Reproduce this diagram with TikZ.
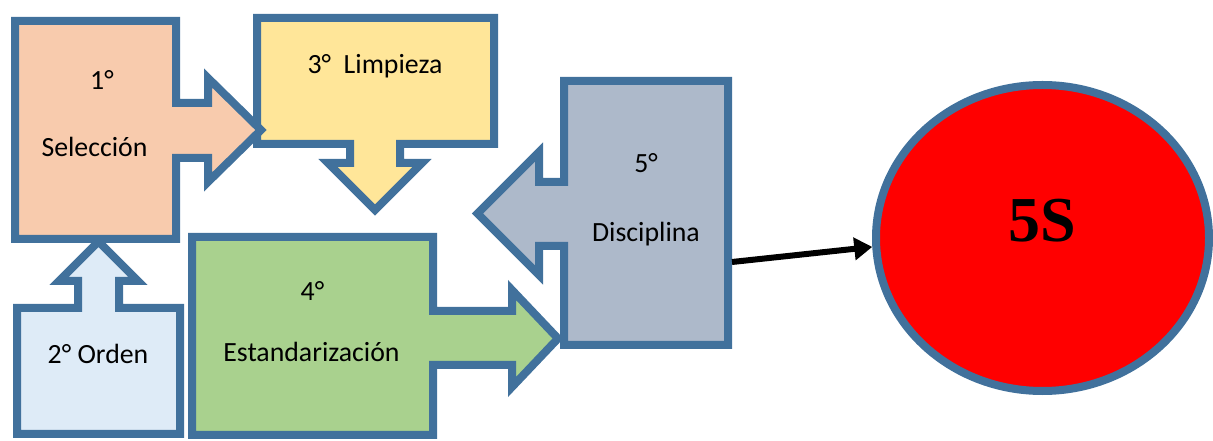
\documentclass[tikz,border=0pt]{standalone}
\usepackage{fontspec}
\setmainfont{Carlito}
\newfontfamily\tnr{Liberation Serif}
\usetikzlibrary{arrows.meta,shapes.geometric}
\definecolor{edge}{HTML}{41719C}
\definecolor{fsel}{HTML}{F8CBAD}
\definecolor{flim}{HTML}{FFE699}
\definecolor{ford}{HTML}{DEEBF7}
\definecolor{fest}{HTML}{A9D18E}
\definecolor{fdis}{HTML}{ADB9CA}
\definecolor{fred}{HTML}{FF0000}
\begin{document}
\begin{tikzpicture}[x=1bp,y=-1bp,
  callout/.style={draw=edge,line width=8bp,line join=miter,miter limit=10},
  lbl/.style={anchor=base,inner sep=0pt,font=\fontsize{27.8bp}{33bp}\selectfont},
  conn/.style={line width=6bp,-{Triangle[length=18bp,width=22bp]}}]
\useasboundingbox (0,0) rectangle (1213,441);
% 3 Limpieza
\draw[callout,fill=flim] (257,18) -- (494,18) -- (494,144) -- (400,144) -- (400,163) -- (422,163)
  -- (375,210) -- (328,163) -- (350,163) -- (350,144) -- (257,144) -- cycle;
% 1 Seleccion
\draw[callout,fill=fsel] (15,21) -- (176,21) -- (176,103) -- (208,103) -- (208,78) -- (261,130)
  -- (208,182) -- (208,158) -- (176,158) -- (176,239) -- (15,239) -- cycle;
% 2 Orden
\draw[callout,fill=ford] (17,434) -- (17,308) -- (78,308) -- (78,281) -- (59,281) -- (98.5,241.5)
  -- (138,281) -- (119,281) -- (119,308) -- (180,308) -- (180,434) -- cycle;
% 5 Disciplina
\draw[callout,fill=fdis] (564,81) -- (728,81) -- (728,345) -- (564,345) -- (564,246) -- (539,246)
  -- (539,275) -- (477.5,213.5) -- (539,152) -- (539,182) -- (564,182) -- cycle;
% 4 Estandarizacion
\draw[callout,fill=fest] (192,237) -- (433,237) -- (433,311) -- (512,311) -- (512,290) -- (558,338.5)
  -- (512,387) -- (512,365) -- (433,365) -- (433,435) -- (192,435) -- cycle;
% labels
\node[lbl] (n1) at (102,90) {1°};
\node[lbl] (t1) at (94.5,157) {Selección};
\node[lbl] (t3) at (375,74) {3°\ \ Limpieza};
\node[lbl] (t2) at (98,364) {2° Orden};
\node[lbl] (n4) at (312.5,301) {4°};
\node[lbl] (t4) at (311.5,362) {Estandarización};
\node[lbl] (n5) at (646,173) {5°};
\node[lbl] (t5) at (646,242) {Disciplina};
% 5S ellipse
\node[ellipse,draw=edge,fill=fred,line width=8bp,minimum width=333bp,minimum height=306bp,inner sep=0pt] (s5) at (1042.5,238) {};
\node[anchor=base,inner sep=0pt,font=\tnr\bfseries\fontsize{64bp}{70bp}\selectfont] (s5t) at (1042,242) {5S};
\coordinate (d5e) at (732,262);
\draw[conn] (d5e) -- (s5.183);
\end{tikzpicture}
\end{document}
